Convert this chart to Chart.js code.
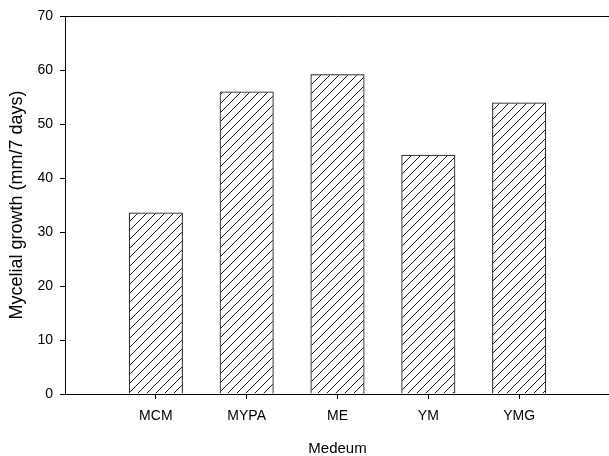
<!DOCTYPE html>
<html>
<head>
<meta charset="utf-8">
<script src="https://cdn.jsdelivr.net/npm/chart.js@4"></script>
<style>
  html, body { margin: 0; padding: 0; background: #fff; overflow: hidden; }
</style>
</head>
<body>
<!-- 2px a mais: a moldura da direita fica fora da janela, como no original -->
<canvas id="grafico" width="611" height="456"></canvas>
<script>
// dados
const categories = ['MCM', 'MYPA', 'ME', 'YM', 'YMG'];
const growth = [33.6, 56.0, 59.2, 44.3, 54.0];
const yTicks = [0, 10, 20, 30, 40, 50, 60, 70];

// eixo x tem uma posição vazia em cada ponta
const labels = ['', ...categories, ''];
const values = [null, ...growth, null];

// hachura diagonal das barras
function hatch() {
  const c = document.createElement('canvas');
  c.width = 9; c.height = 9;
  const g = c.getContext('2d');
  g.strokeStyle = '#1a1a1a';
  g.lineWidth = 1;
  g.beginPath();
  g.moveTo(-1, 10); g.lineTo(10, -1);
  g.moveTo(-1, 1); g.lineTo(1, -1);
  g.moveTo(8, 10); g.lineTo(10, 8);
  g.stroke();
  return g.createPattern(c, 'repeat');
}

// linha de cima da moldura
const topBorder = {
  id: 'topBorder',
  afterDraw(chart) {
    const { ctx, chartArea } = chart;
    ctx.save();
    ctx.strokeStyle = '#000';
    ctx.lineWidth = 1;
    ctx.beginPath();
    ctx.moveTo(chartArea.left, chartArea.top + 0.5);
    ctx.lineTo(chartArea.right, chartArea.top + 0.5);
    ctx.stroke();
    ctx.restore();
  }
};

const family = '"Liberation Sans", Arial, sans-serif';

const ctx = document.getElementById('grafico').getContext('2d');
new Chart(ctx, {
  type: 'bar',
  data: {
    labels,
    datasets: [{
      data: values,
      backgroundColor: hatch(),
      borderColor: '#000',
      borderWidth: 1,
      barPercentage: 0.595,
      categoryPercentage: 1
    }]
  },
  options: {
    responsive: false,
    animation: false,
    devicePixelRatio: 1,
    layout: { padding: { top: 16, right: 1, left: 0, bottom: 0 } },
    plugins: { legend: { display: false }, tooltip: { enabled: false } },
    scales: {
      x: {
        offset: false,
        // só as cinco categorias têm marca e rótulo
        afterBuildTicks: s => { s.ticks = s.ticks.filter(t => t.value >= 1 && t.value <= categories.length); },
        afterFit: s => { s.height = 62; },
        ticks: { color: '#000', font: { family, size: 14 }, padding: 9, maxRotation: 0, autoSkip: false },
        grid: { z: 1, offset: false, drawOnChartArea: false, drawTicks: true, tickLength: 5, tickColor: '#000' },
        border: { z: 1, color: '#000', width: 1 },
        title: {
          display: true,
          text: 'Medeum',
          color: '#000',
          font: { family, size: 15 },
          padding: { top: 0, bottom: -2 }
        }
      },
      y: {
        min: 0,
        max: 70,
        afterBuildTicks: s => { s.ticks = yTicks.map(v => ({ value: v })); },
        afterFit: s => { s.width = 65; },
        ticks: { color: '#000', font: { family, size: 14 }, padding: 7 },
        grid: { z: 1, drawOnChartArea: false, drawTicks: true, tickLength: 5, tickColor: '#000' },
        border: { z: 1, color: '#000', width: 1 },
        title: {
          display: true,
          text: 'Mycelial growth (mm/7 days)',
          color: '#000',
          font: { family, size: 18 },
          padding: { top: 6, bottom: 0 }
        }
      }
    }
  },
  plugins: [topBorder]
});
</script>
</body>
</html>
